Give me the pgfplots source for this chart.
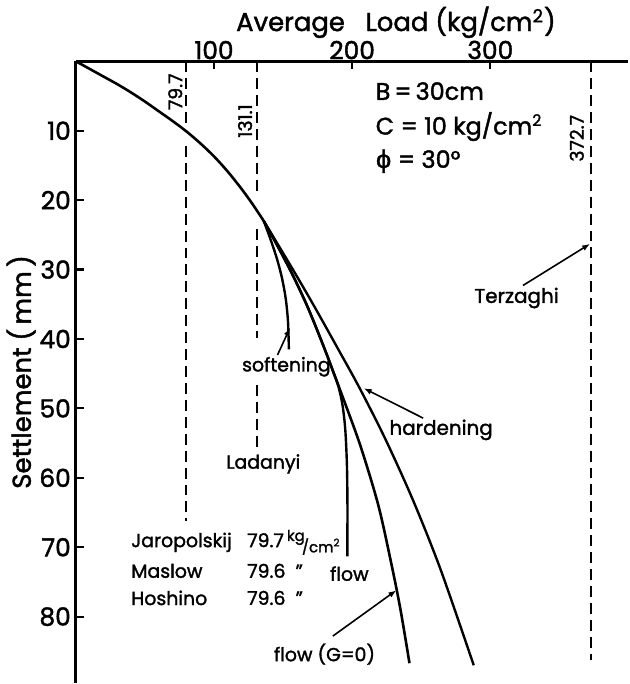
\documentclass[border=0pt]{standalone}
\usepackage{fontspec}
\setmainfont{Poppins}[FakeBold=1.6]
\newfontfamily\grk{DejaVu Sans}[FakeBold=1.6]
\usepackage{pgfplots}
\pgfplotsset{compat=1.18}
\usetikzlibrary{arrows.meta}
\begin{document}
\begin{tikzpicture}
\begin{axis}[
  width=277.5pt, height=312pt, scale only axis,
  xmin=0, xmax=400, ymin=0, ymax=89.5,
  y dir=reverse,
  axis x line*=top, axis y line*=left,
  axis line style={-, line width=1.4pt},
  xtick={100,200,300}, ytick={10,20,30,40,50,60,70,80},
  tick align=inside,
  major tick length=4pt,
  tick style={line width=1.1pt, black},
  /pgf/number format/assume math mode=true,
  tick label style={font=\fontsize{12.5}{13}\selectfont},
  xticklabel style={yshift=-2.5pt},
  yticklabel style={xshift=1pt},
  xlabel={Average\ \ \ Load\ (kg/cm\textsuperscript{2})},
  ylabel={Settlement\ (\,mm\,)},
  label style={font=\fontsize{13}{14}\selectfont},
  xlabel style={xshift=22pt, yshift=-5.5pt},
  ylabel style={yshift=-5pt},
  clip=false,
]
% dashed reference lines
\addplot[black, line width=1.15pt, dash pattern=on 5.5pt off 3pt] coordinates {(79.7,0) (79.7,9.2)};
\addplot[black, line width=1.15pt, dash pattern=on 5.5pt off 3pt] coordinates {(79.7,12.2) (79.7,66.2)};
\addplot[black, line width=1.15pt, dash pattern=on 5.5pt off 3pt] coordinates {(131.1,0) (131.1,19.2)};
\addplot[black, line width=1.15pt, dash pattern=on 5.5pt off 3pt] coordinates {(131.1,24.2) (131.1,39.8)};
\addplot[black, line width=1.15pt, dash pattern=on 5.5pt off 3pt] coordinates {(131.1,46.7) (131.1,56.1)};
\addplot[black, line width=1.15pt, dash pattern=on 5.5pt off 3pt] coordinates {(372.7,0) (372.7,86.3)};
% common curve
\addplot[black, line width=1.3pt, smooth] coordinates {(0,0) (10,1.1) (20,2.2) (30,3.3) (40,4.5) (50,5.8) (60,7.2) (70,8.6) (80,10.1) (90,11.8) (100,13.7) (110,15.9) (120,18.4) (128,20.6) (136,23.0)};
% softening
\addplot[black, line width=1.2pt, smooth] coordinates {(136,23.0) (141,25.7) (145.5,28.4) (149.3,31.3) (152,34.3) (153.6,37.6) (154.2,41.5)};
% flow (G=0)
\addplot[black, line width=1.3pt, smooth] coordinates {(136,23.0) (146,26.6) (157,30.8) (168,35.5) (180,41.4) (192.3,47.9) (206,55.4) (219,64) (228.6,72.6) (235,79) (241.5,86.7)};
% flow
\addplot[black, line width=1.2pt, smooth] coordinates {(136,23.0) (146,26.6) (157,30.8) (168,35.5) (180,41.4) (186,44.6) (190,46.8) (193,49.5) (195,53) (196.2,58) (196.6,64) (196.5,71.3)};
% hardening
\addplot[black, line width=1.2pt, smooth] coordinates {(136,23.0) (146,26.3) (158,30.3) (172.3,35.2) (189.7,41.4) (205.2,47) (224,54.4) (244,63.2) (264,73.2) (288,87)};

% rotated value labels
\node[rotate=90, font=\fontsize{9.5}{10}\selectfont] at (axis cs:72,4.4) {79.7};
\node[rotate=90, font=\fontsize{9.5}{10}\selectfont] at (axis cs:122.5,8.6) {131.1};
\node[rotate=90, font=\fontsize{9.5}{10}\selectfont] at (axis cs:362.6,11.1) {372.7};

% parameters
\node[anchor=west, font=\fontsize{12}{13}\selectfont] at (axis cs:212,4.3) {B\,=\,30cm};
\node[anchor=west, font=\fontsize{12}{13}\selectfont] at (axis cs:212,9.4) {C = 10 kg/cm\textsuperscript{2}};
\node[anchor=west, font=\fontsize{12}{13}\selectfont] at (axis cs:212,14.4) {{\grk ϕ} = 30°};

% curve labels and arrows
\node[font=\fontsize{10}{11}\selectfont] at (axis cs:319,34.1) {Terzaghi};
\draw[-{Latex[length=4pt,width=3pt]}, line width=0.8pt] (axis cs:323.6,32.3) -- (axis cs:372.2,26.3);
\node[font=\fontsize{9.5}{10}\selectfont] at (axis cs:152.4,44) {softening};
\draw[-{Latex[length=4pt,width=3pt]}, line width=0.8pt] (axis cs:146,42.3) -- (axis cs:155,38.4);
\node[font=\fontsize{9.5}{10}\selectfont] at (axis cs:135.7,58) {Ladanyi};
\node[font=\fontsize{10}{11}\selectfont] at (axis cs:264.4,53.1) {hardening};
\draw[-{Latex[length=4pt,width=3pt]}, line width=0.8pt] (axis cs:251.4,51.4) -- (axis cs:208.4,47.1);
\node[font=\fontsize{9.5}{10}\selectfont] at (axis cs:198,73.8) {flow};
\node[font=\fontsize{9.5}{10}\selectfont] at (axis cs:180,85.4) {flow (G=0)};
\draw[-{Latex[length=4pt,width=3pt]}, line width=0.8pt] (axis cs:186,82.8) -- (axis cs:232,76.2);

% table of values
\node[anchor=west, font=\fontsize{9.5}{10}\selectfont] at (axis cs:35,69.3) {Jaropolskij};
\node[anchor=west, font=\fontsize{9.5}{10}\selectfont] at (axis cs:35,73.4) {Maslow};
\node[anchor=west, font=\fontsize{9.5}{10}\selectfont] at (axis cs:35,77.3) {Hoshino};
\node[anchor=west, font=\fontsize{9.5}{10}\selectfont] at (axis cs:119,69.3) {79.7\,\raisebox{0.6ex}{\fontsize{7.5}{7.5}\selectfont kg}\kern-0.15em\raisebox{-0.5ex}{\fontsize{7.5}{7.5}\selectfont /cm\textsuperscript{2}}};
\node[anchor=west, font=\fontsize{9.5}{10}\selectfont] at (axis cs:119,73.4) {79.6\ \ "};
\node[anchor=west, font=\fontsize{9.5}{10}\selectfont] at (axis cs:119,77.3) {79.6\ \ "};
\end{axis}
\end{tikzpicture}
\end{document}
